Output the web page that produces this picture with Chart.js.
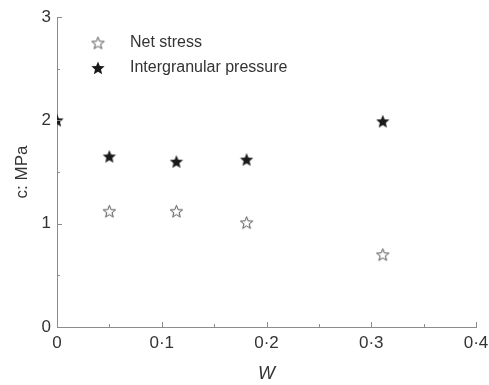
<!DOCTYPE html>
<html>
<head>
<meta charset="utf-8">
<script src="https://cdn.jsdelivr.net/npm/chart.js@4"></script>
<style>
  html, body { margin: 0; padding: 0; background: #fff; }
  #wrap { width: 489px; height: 385px; }
</style>
</head>
<body>
<div id="wrap"><canvas id="chart" width="489" height="385"></canvas></div>
<script>
// values
const wNet = [0.05, 0.114, 0.181, 0.311];
const cNet = [1.12, 1.12, 1.01, 0.70];
const wInter = [0, 0.05, 0.114, 0.181, 0.311];
const cInter = [2.0, 1.65, 1.60, 1.62, 1.99];
const xTicks = [0, 0.1, 0.2, 0.3, 0.4];
const yTicks = [0, 1, 2, 3];
const seriesLabels = ["Net stress", "Intergranular pressure"];

const axisColor = "#8c8c8c";
const textColor = "#333";

function makeStar(size, filled) {
  const c = document.createElement("canvas");
  c.width = size; c.height = size;
  const ctx = c.getContext("2d");
  const cx = size / 2, cy = size / 2 + 0.5;
  const R = size / 2 - 1, r = R * (filled ? 0.45 : 0.42);
  ctx.beginPath();
  for (let i = 0; i < 10; i++) {
    const rad = i % 2 === 0 ? R : r;
    const a = -Math.PI / 2 + i * Math.PI / 5;
    const px = cx + rad * Math.cos(a), py = cy + rad * Math.sin(a);
    i === 0 ? ctx.moveTo(px, py) : ctx.lineTo(px, py);
  }
  ctx.closePath();
  if (filled) {
    ctx.fillStyle = "#1a1a1a";
    ctx.fill();
  } else {
    ctx.strokeStyle = "#555";
    ctx.lineWidth = 1;
    ctx.stroke();
  }
  return c;
}

const openStar = makeStar(15, false);
const fullStar = makeStar(16, true);

const toPoints = (xs, ys) => xs.map((x, i) => ({ x, y: ys[i] }));
const fmt = (v) => String(Math.round(v * 10) / 10).replace(".", "·");

// inward minor/major ticks and the inset legend
const extrasPlugin = {
  id: "extras",
  afterDraw(chart) {
    const { ctx, chartArea, scales } = chart;
    const xs = scales.x, ys = scales.y;
    ctx.save();
    ctx.strokeStyle = axisColor;
    ctx.lineWidth = 1;
    for (let v = 0; v <= 0.4001; v += 0.05) {
      const px = Math.round(xs.getPixelForValue(v)) + 0.5;
      const major = Math.abs(v * 10 - Math.round(v * 10)) < 1e-6;
      ctx.beginPath();
      ctx.moveTo(px, chartArea.bottom);
      ctx.lineTo(px, chartArea.bottom - (major ? 5 : 3));
      ctx.stroke();
    }
    for (let v = 0; v <= 3.001; v += 0.5) {
      const py = Math.round(ys.getPixelForValue(v)) + 0.5;
      const major = Math.abs(v - Math.round(v)) < 1e-6;
      ctx.beginPath();
      ctx.moveTo(chartArea.left, py);
      ctx.lineTo(chartArea.left + (major ? 5 : 3), py);
      ctx.stroke();
    }

    // legend
    const imgs = [openStar, fullStar];
    ctx.font = "16px 'Liberation Sans', Arial, sans-serif";
    ctx.fillStyle = textColor;
    ctx.textBaseline = "middle";
    chart.data.datasets.forEach((ds, i) => {
      const ly = chartArea.top + 26 + i * 25;
      const img = imgs[i];
      ctx.drawImage(img, chartArea.left + 41 - img.width / 2, ly - img.height / 2);
      ctx.fillText(ds.label, chartArea.left + 73, ly);
    });
    ctx.restore();
  }
};

new Chart(document.getElementById("chart"), {
  type: "scatter",
  data: {
    datasets: [
      {
        label: seriesLabels[0],
        data: toPoints(wNet, cNet),
        pointStyle: openStar,
        pointRadius: 7,
        pointHoverRadius: 7,
      },
      {
        label: seriesLabels[1],
        data: toPoints(wInter, cInter),
        pointStyle: fullStar,
        pointRadius: 8,
        pointHoverRadius: 8,
      },
    ],
  },
  options: {
    responsive: false,
    animation: false,
    events: [],
    layout: { padding: { top: 17, right: 13, left: 0, bottom: 0 } },
    plugins: {
      legend: { display: false },
      tooltip: { enabled: false },
    },
    scales: {
      x: {
        type: "linear",
        min: 0,
        max: 0.4,
        afterBuildTicks: (s) => { s.ticks = xTicks.map((v) => ({ value: v })); },
        afterFit: (s) => { s.height = 58; s.paddingLeft = 0; s.paddingRight = 0; },
        ticks: {
          color: textColor,
          font: { family: "'Liberation Sans', Arial, sans-serif", size: 17 },
          padding: 6,
          maxRotation: 0,
          callback: (v) => fmt(v),
        },
        grid: { display: true, drawOnChartArea: false, drawTicks: false },
        border: { display: true, color: axisColor, width: 1 },
        title: {
          display: true,
          text: "W",
          color: textColor,
          font: { family: "'Liberation Sans', Arial, sans-serif", size: 18, style: "italic" },
          padding: { top: 7, bottom: 0 },
        },
      },
      y: {
        type: "linear",
        min: 0,
        max: 3,
        afterBuildTicks: (s) => { s.ticks = yTicks.map((v) => ({ value: v })); },
        afterFit: (s) => { s.width = 57; s.paddingTop = 0; s.paddingBottom = 0; },
        ticks: {
          color: textColor,
          font: { family: "'Liberation Sans', Arial, sans-serif", size: 17 },
          padding: 6,
          callback: (v) => fmt(v),
        },
        grid: { display: true, drawOnChartArea: false, drawTicks: false },
        border: { display: true, color: axisColor, width: 1 },
        title: {
          display: true,
          text: "c: MPa",
          color: textColor,
          font: { family: "'Liberation Sans', Arial, sans-serif", size: 17 },
          padding: { top: 12, bottom: 0 },
        },
      },
    },
  },
  plugins: [extrasPlugin],
});
</script>
</body>
</html>
